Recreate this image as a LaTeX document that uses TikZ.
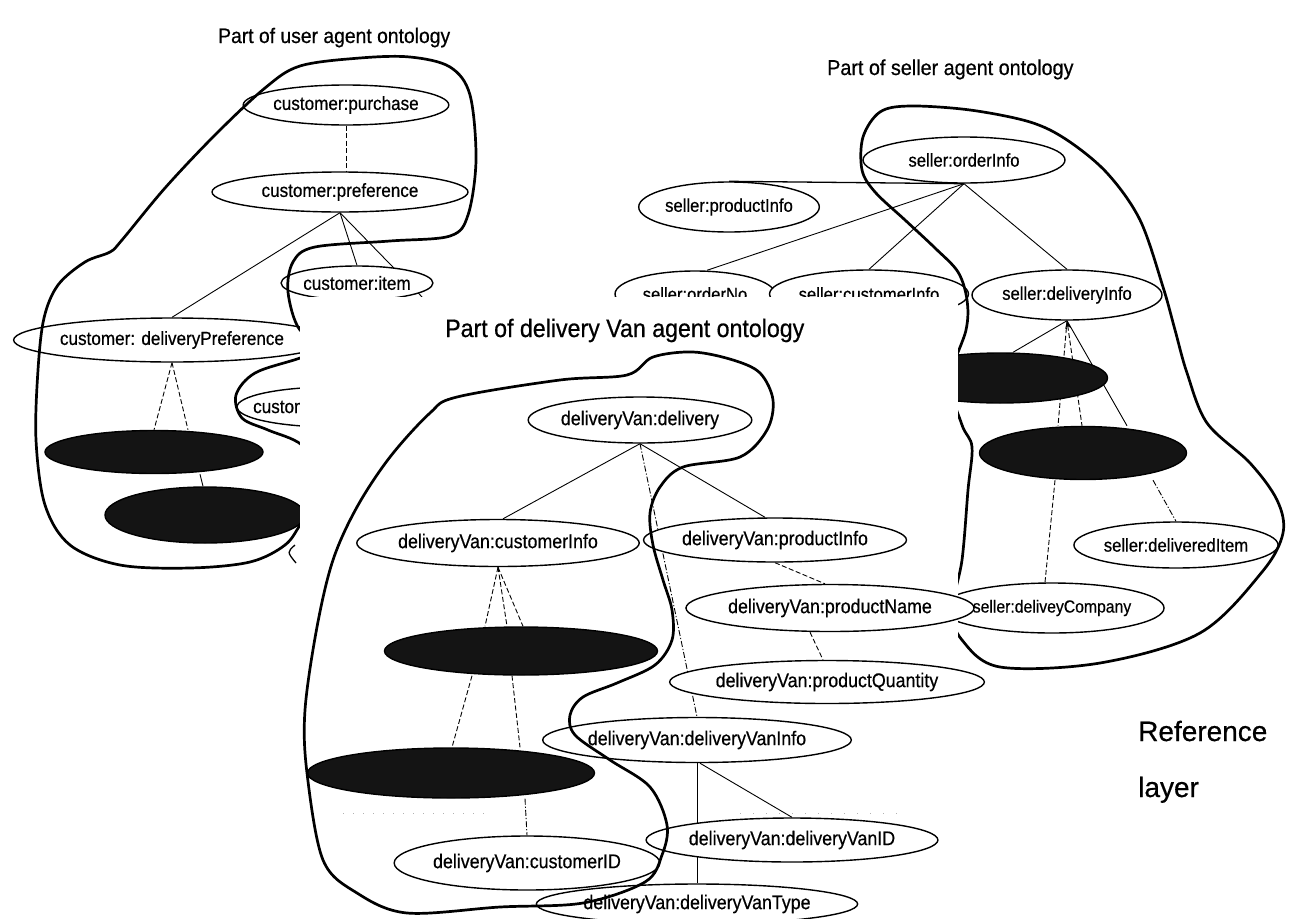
\documentclass[tikz,border=0pt]{standalone}
\usepackage{fontspec}
\setmainfont{Liberation Sans}
\newfontfamily\lblfont[FakeStretch=0.9,FakeBold=0.5]{Liberation Sans}
\newfontfamily\ttlfont[FakeStretch=0.92,FakeBold=0.6]{Liberation Sans}
\newfontfamily\capfont[FakeBold=0.5]{Liberation Sans}
\usetikzlibrary{shapes.geometric,arrows.meta}
\pgfdeclarelayer{bgfill}
\pgfdeclarelayer{edgesback}
\pgfdeclarelayer{nodesback}
\pgfdeclarelayer{hullsback}
\pgfdeclarelayer{panel}
\pgfdeclarelayer{edgesfront}
\pgfsetlayers{bgfill,edgesback,nodesback,hullsback,panel,edgesfront,main}
\begin{document}
\begin{tikzpicture}[x=1pt,y=-1pt,
  onto/.style={ellipse, draw, line width=1.4pt, fill=white, inner sep=0pt},
  hiddennode/.style={ellipse, draw, line width=1.4pt, fill=black!92, inner sep=0pt},
  el/.style 2 args={minimum width=#1pt, minimum height=#2pt},
  edge/.style={line width=0.9pt},
  dedge/.style={line width=0.9pt, dash pattern=on 5pt off 2.5pt},
  ddedge/.style={line width=0.9pt, dash pattern=on 6pt off 2pt on 1.2pt off 2pt},
  hull/.style={line width=2.7pt, line join=round},
  ufont/.style={font=\lblfont\fontsize{19}{20}\selectfont},
  sfont/.style={font=\lblfont\fontsize{18.5}{20}\selectfont},
  vfont/.style={font=\lblfont\fontsize{19.8}{21}\selectfont},
  title/.style={anchor=base west, inner sep=0pt},
]
\useasboundingbox (0,0) rectangle (1313,918);
\begin{pgfonlayer}{bgfill}
  \fill[white] (0,0) rectangle (1313,918);
\end{pgfonlayer}

% ---------- user agent ontology ----------
\begin{pgfonlayer}{nodesback}
  \node[title, font=\ttlfont\fontsize{21}{23}\selectfont] (tuser) at (218,43) {Part of user agent ontology};
  \node[onto, ufont, el={165}{40}] (purchase) at (346,105) {customer:purchase};
  \node[onto, ufont, el={256}{40}] (pref) at (340,192) {customer:preference};
  \node[onto, ufont, el={118}{34}] (item) at (357,283) {customer:item};
  \node[onto, ufont, el={250}{44}] (dpref) at (172,340) {customer: deliveryPreference};
  \node[onto, el={190}{40}] (ucust) at (332,407) {};
  \node[ufont, anchor=west, inner sep=0pt] (ucusttext) at (253,407) {customer:};
  \node[hiddennode, el={218}{43}] (udA) at (154,452) {};
  \node[hiddennode, el={200}{56}] (udB) at (205,515) {};
  \coordinate (uhid) at (425,300);
\end{pgfonlayer}
\begin{pgfonlayer}{edgesback}
  \draw[dedge] (purchase.south) -- (purchase.south |- pref.north);
  \draw[edge] (pref.south) -- (dpref.north);
  \draw[edge] (pref.south) -- (item.north);
  \draw[edge] (pref.south) -- (uhid);
  \draw[dedge] (dpref.south) -- (udA.north);
  \draw[dedge] (dpref.south) -- ([xshift=34pt]udA.north);
  \draw[edge] ([xshift=46pt]udA.south) -- ([xshift=-2pt]udB.north);
\end{pgfonlayer}

% ---------- seller agent ontology ----------
\begin{pgfonlayer}{nodesback}
  \node[title, font=\ttlfont\fontsize{21.5}{23}\selectfont] (tseller) at (827,75) {Part of seller agent ontology};
  \node[onto, sfont, el={202}{46}] (sorder) at (964,160) {seller:orderInfo};
  \node[onto, sfont, el={178}{50}] (sprod) at (729,207) {seller:productInfo};
  \node[onto, sfont, el={160}{46}] (sno) at (695,294) {seller:orderNo};
  \node[onto, sfont, el={192}{48}] (scust) at (869,294) {seller:customerInfo};
  \node[onto, sfont, el={190}{50}] (sdel) at (1067,295) {seller:deliveryInfo};
  \node[hiddennode, el={215}{50}] (sdA) at (1000,378) {};
  \node[hiddennode, el={207}{53}] (sdB) at (1083,453) {};
  \node[onto, sfont, el={188}{46}] (sitem) at (1176,545) {seller:deliveredItem};
  \node[onto, font=\lblfont\fontsize{17.5}{19}\selectfont, el={190}{50}] (scomp) at (1052,608) {seller:deliveyCompany};
\end{pgfonlayer}
\begin{pgfonlayer}{edgesback}
  \draw[line width=1.3pt] (sorder.south) -- (sprod.north);
  \draw[edge] (sorder.south) -- ([xshift=12pt]sno.north);
  \draw[edge] (sorder.south) -- (scust.north);
  \draw[edge] (sorder.south) -- (sdel.north);
  \draw[edge] (sdel.south) -- ([xshift=13pt]sdA.north);
  \draw[dedge] (sdel.south) -- ([xshift=-25pt]sdB.north);
  \draw[dedge, {Stealth[length=8pt,width=6pt]}-] (sdel.south) -- ([xshift=-1pt]sdB.north);
  \draw[edge] (sdel.south) -- ([xshift=44pt]sdB.north);
  \draw[dedge] ([xshift=-28pt]sdB.south) -- ([xshift=-7pt]scomp.north);
  \draw[ddedge] ([xshift=70pt]sdB.south) -- (sitem.north);
\end{pgfonlayer}

% ---------- outlines of the two rear ontologies ----------
\begin{pgfonlayer}{hullsback}
  \draw[hull] plot[smooth cycle, tension=0.55] coordinates {
    (300,66) (360,58) (410,57) (450,67) (470,95) (476,160) (468,215)
    (450,236) (390,241) (315,247) (293,262) (288,292) (300,330) (330,345)
    (300,358) (255,373) (236,395) (242,418) (268,430) (302,445) (330,480)
    (302,522) (285,545) (250,562) (190,568) (120,565) (70,545) (45,505)
    (36,440) (38,370) (44,318) (58,285) (85,262) (110,252) (122,240)
    (165,188) (215,135) (265,88)};
  \draw[line width=1.3pt] (295,545) .. controls (287,552) .. (296,563);
  \draw[hull] plot[smooth cycle, tension=0.55] coordinates {
    (880,112) (863,137) (862,170) (875,192) (905,220) (935,248) (958,272)
    (967,300) (966,330) (950,380) (962,425) (972,447) (968,490) (962,560)
    (952,610) (962,640) (1000,667) (1100,663) (1200,633) (1262,572)
    (1283,533) (1277,500) (1250,463) (1207,423) (1187,373) (1175,330)
    (1163,287) (1140,220) (1107,173) (1067,140) (1030,122) (970,110)
    (910,106)};
\end{pgfonlayer}

% ---------- delivery van ontology, in front ----------
\begin{pgfonlayer}{panel}
  \fill[white] (300,297) rectangle (958,918);
\end{pgfonlayer}

\node[title, font=\ttlfont\fontsize{25.2}{27}\selectfont] (tvan) at (445,337) {Part of delivery Van agent ontology};
\node[onto, vfont, el={206}{46}] (vdel) at (640,420) {deliveryVan:delivery};
\node[onto, vfont, el={273}{47}] (vcust) at (498,543) {deliveryVan:customerInfo};
\node[onto, vfont, el={238}{44}] (vprod) at (775,540) {deliveryVan:productInfo};
\node[onto, vfont, el={256}{47}] (vpname) at (830,608) {deliveryVan:productName};
\node[onto, vfont, el={267}{43}] (vpqty) at (827,682) {deliveryVan:productQuantity};
\node[onto, vfont, el={240}{45}] (vinfo) at (697,740) {deliveryVan:deliveryVanInfo};
\node[onto, vfont, el={245}{44}] (vid) at (792,840) {deliveryVan:deliveryVanID};
\node[onto, vfont, el={245}{40}] (vtype) at (697,904) {deliveryVan:deliveryVanType};
\node[hiddennode, el={273}{48}] (vdA) at (521,651) {};
\node[hiddennode, el={287}{50}] (vdB) at (451,773) {};
\node[onto, vfont, el={237}{54}] (vcid) at (527,863) {deliveryVan:customerID};

\begin{pgfonlayer}{edgesfront}
  \draw[edge] (vdel.south) -- ([xshift=5pt]vcust.north);
  \draw[edge] (vdel.south) -- ([xshift=-10pt]vprod.north);
  \draw[ddedge] (vdel.south) -- (vinfo.north);
  \draw[dedge] (vprod.south) -- ([xshift=-5pt]vpname.north);
  \draw[dedge] ([xshift=-20pt]vpname.south) -- ([xshift=-4pt]vpqty.north);
  \draw[dedge] (vcust.south) -- ([xshift=-36pt]vdA.north);
  \draw[dedge] (vcust.south) -- ([xshift=-14pt]vdA.north);
  \draw[dedge] (vcust.south) -- ([xshift=2pt]vdA.north);
  \draw[dedge] ([xshift=-49pt]vdA.south) -- ([xshift=1pt]vdB.north);
  \draw[dedge] ([xshift=-9pt]vdA.south) -- ([xshift=69pt]vdB.north);
  \draw[ddedge] ([xshift=74pt]vdB.south) -- (vcid.north);
  \draw[edge] (vinfo.south) -- (vtype.north);
  \draw[edge] ([xshift=3pt]vinfo.south) -- (vid.north);
  \draw[gray!60, line width=0.6pt, dash pattern=on 1pt off 9pt] (343,813) -- (490,813);
  \draw[gray!60, line width=0.6pt, dash pattern=on 1pt off 12pt] (740,813) -- (900,813);
\end{pgfonlayer}

\draw[hull] plot[smooth cycle, tension=0.55] coordinates {
  (457,397) (560,380) (627,375) (653,357) (693,352) (733,360) (760,373)
  (773,400) (767,430) (740,457) (683,467) (660,487) (650,513) (653,545)
  (663,580) (672,610) (672,640) (655,665) (617,683) (583,697) (570,715)
  (575,735) (610,760) (650,787) (667,825) (662,855) (645,882) (583,903)
  (500,907) (407,913) (357,893) (323,860) (307,773) (305,710) (317,627)
  (333,560) (357,507) (390,457) (430,413)};

% ---------- side caption ----------
\node[title, font=\capfont\fontsize{28}{30}\selectfont] (refword) at (1138,741) {Reference};
\node[title, font=\capfont\fontsize{28}{30}\selectfont] (layerword) at (1138,797) {layer};
\end{tikzpicture}
\end{document}
